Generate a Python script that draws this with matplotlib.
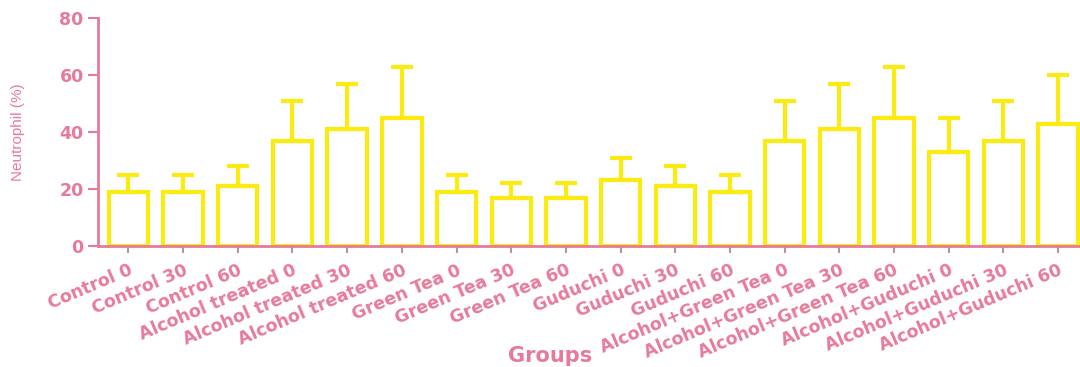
import matplotlib.pyplot as plt
import numpy as np

groups = ['Control 0', 'Control 30', 'Control 60',
          'Alcohol treated 0', 'Alcohol treated 30', 'Alcohol treated 60',
          'Green Tea 0', 'Green Tea 30', 'Green Tea 60',
          'Guduchi 0', 'Guduchi 30', 'Guduchi 60',
          'Alcohol+Green Tea 0', 'Alcohol+Green Tea 30', 'Alcohol+Green Tea 60',
          'Alcohol+Guduchi 0', 'Alcohol+Guduchi 30', 'Alcohol+Guduchi 60']
neutrophil = [19, 19, 21, 37, 41, 45, 19, 17, 17, 23, 21, 19, 37, 41, 45, 33, 37, 43]
err = [6, 6, 7, 14, 16, 18, 6, 5, 5, 8, 7, 6, 14, 16, 18, 12, 14, 17]

pink = '#e67a9a'
yellow = '#fbeb10'
plt.rcParams['font.family'] = ['DejaVu Sans']

fig = plt.figure(figsize=(10.8, 3.67), dpi=100)
ax = fig.add_axes([0.091, 0.33, 0.909, 0.62])

x = np.arange(len(groups))
ax.bar(x, neutrophil, width=0.72, facecolor='white', edgecolor=yellow, linewidth=3,
       yerr=[np.zeros(len(err)), err], error_kw=dict(ecolor=yellow, elinewidth=3, capsize=8, capthick=3))

ax.set_xlim(-0.55, 17.4)
ax.set_ylim(0, 80)
ax.set_yticks([0, 20, 40, 60, 80])
ax.set_xticks(x)
ax.set_xticklabels(groups, rotation=23, ha='right', rotation_mode='anchor',
                   fontsize=12.5, fontweight='bold', color=pink)
for lab in ax.get_yticklabels():
    lab.set_fontsize(12.5)
    lab.set_fontweight('bold')

for s in ['top', 'right']:
    ax.spines[s].set_visible(False)
for s in ['left', 'bottom']:
    ax.spines[s].set_color(pink)
    ax.spines[s].set_linewidth(2)
ax.tick_params(axis='y', colors=pink, labelcolor=pink, length=7, width=1.5)
ax.tick_params(axis='x', colors='#c0909c', labelcolor=pink, length=5, width=1.5, pad=6)

ax.set_xlabel('Groups', fontsize=15, fontweight='bold', color=pink)
ax.xaxis.set_label_coords(0.46, -0.44)
ax.set_ylabel('Neutrophil (%)', fontsize=11, color=pink, fontfamily='Liberation Sans')
ax.yaxis.set_label_coords(-0.075, 0.5)

plt.savefig('out.png')
